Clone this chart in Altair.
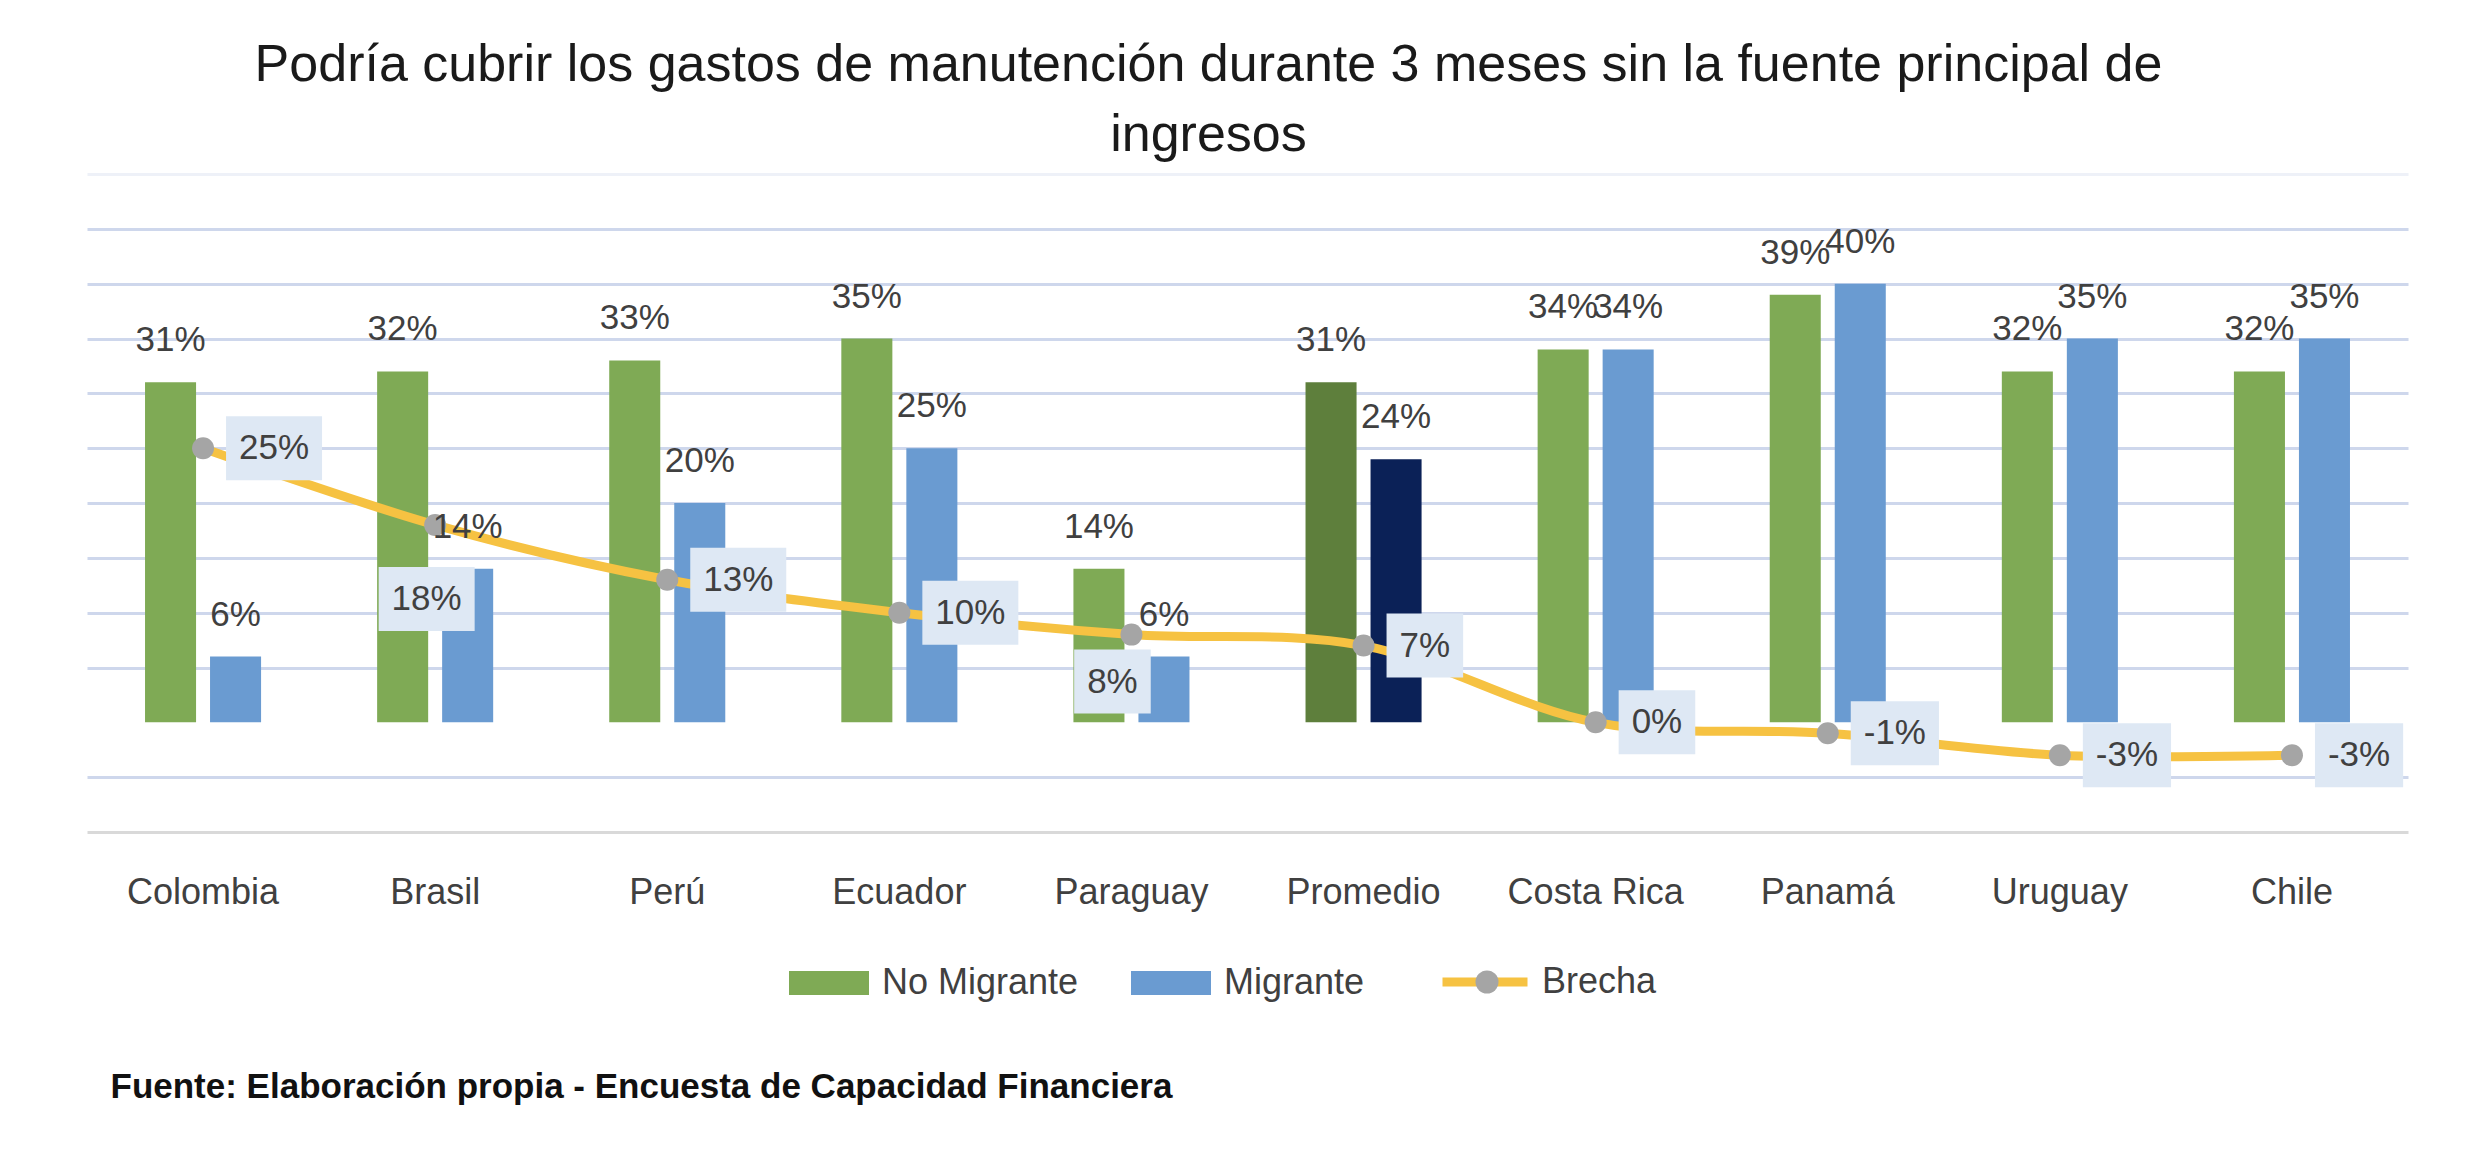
import altair as alt
import pandas as pd

# ---------------- data ----------------
paises = ["Colombia", "Brasil", "Perú", "Ecuador", "Paraguay", "Promedio",
          "Costa Rica", "Panamá", "Uruguay", "Chile"]
no_migrante = [31, 32, 33, 35, 14, 31, 34, 39, 32, 32]
migrante = [6, 14, 20, 25, 6, 24, 34, 40, 35, 35]
brecha = [25, 18, 13, 10, 8, 7, 0, -1, -3, -3]
grupos = ["No Migrante", "Migrante"]
titulo = ["Podría cubrir los gastos de manutención durante 3 meses sin la fuente principal de",
          "ingresos"]
fuente = "Fuente: Elaboración propia - Encuesta de Capacidad Financiera"

# ---------------- styles ----------------
FONT = "Liberation Sans"
TXT = "#404040"
GREEN, BLUE = "#7FAA55", "#6A9BD1"
DGREEN, NAVY = "#5E7F3C", "#0B2157"
YELLOW, GREY = "#F6C242", "#A5A5A5"
BOX = "#DEE8F4"
FS = 35
special_pos = {"Brasil": (-8.5, 74), "Paraguay": (-19, 47)}   # label placement tweaks

# ---------------- frames ----------------
rows = []
for p, nm, m in zip(paises, no_migrante, migrante):
    for g, v in zip(grupos, [nm, m]):
        serie = g if p != "Promedio" else g + " (Promedio)"
        rows.append(dict(pais=p, grupo=g, serie=serie, valor=v, etiqueta=f"{v}%"))
bars_df = pd.DataFrame(rows)

cw = {"-": 0.333, "%": 0.889}
def text_w(s):
    return sum(cw.get(c, 0.556) for c in s) * FS

brows = []
for p, b in zip(paises, brecha):
    lab = f"{b}%"
    W = text_w(lab) + 26
    if p in special_pos:
        cx, cy = special_pos[p]
        l, r, t, btm = cx - W / 2, cx + W / 2, cy - 32, cy + 32
        pos = p
    else:
        l, r, t, btm = 23, 23 + W, -32, 32
        pos = "derecha"
    path = f"M{l:.1f},{t:.1f}H{r:.1f}V{btm:.1f}H{l:.1f}Z"
    brows.append(dict(pais=p, valor=b, etiqueta=lab, caja=path, pos=pos,
                      linea="Brecha", punto="marcador"))
br_df = pd.DataFrame(brows)

# ---------------- encodings ----------------
x = alt.X("pais:N", sort=paises,
          scale=alt.Scale(paddingInner=0.5, paddingOuter=0.25),
          axis=alt.Axis(title=fuente, labelAngle=0, labelFontSize=36, labelColor=TXT,
                        labelFont=FONT, labelBaseline="alphabetic", labelPadding=71,
                        ticks=False, tickSize=0, domainColor="#D9D9D9", domainWidth=3,
                        titleX=23, titleY=254, titleAlign="left", titleAnchor="start",
                        titleBaseline="middle", titleFontSize=35, titleFontWeight="bold",
                        titleColor="#111111", titleFont=FONT))
y = alt.Y("valor:Q", scale=alt.Scale(domain=[-10, 50], nice=False, zero=False),
          axis=alt.Axis(title=None, labels=False, ticks=False, domain=False,
                        values=[-5, 5, 10, 15, 20, 25, 30, 35, 40, 45, 50],
                        gridWidth=3,
                        gridColor={"condition": {"test": "datum.value >= 50", "value": "#EEF1F8"},
                                   "value": "#CED7EC"}))
xoff = alt.XOffset("grupo:N", sort=grupos,
                   scale=alt.Scale(paddingInner=0.215, paddingOuter=0))

LEG_Y = 769

bars = alt.Chart(bars_df).mark_bar().encode(
    x=x, y=y, xOffset=xoff,
    color=alt.Color("serie:N",
                    scale=alt.Scale(domain=["No Migrante", "Migrante",
                                            "No Migrante (Promedio)", "Migrante (Promedio)"],
                                    range=[GREEN, BLUE, DGREEN, NAVY]),
                    legend=alt.Legend(values=["No Migrante", "Migrante"], title=None,
                                      orient="none", direction="horizontal",
                                      legendX=702, legendY=LEG_Y, padding=0,
                                      symbolType="M-1,-0.3H1V0.3H-1Z", symbolSize=6400,
                                      symbolStrokeWidth=0, labelFontSize=36,
                                      labelColor=TXT, labelFont=FONT, labelOffset=13,
                                      columnPadding=52, labelLimit=400)),
)

bar_labels = alt.Chart(bars_df).mark_text(
    dy=-31, baseline="alphabetic", fontSize=FS, color=TXT, font=FONT
).encode(x=x, y=y, xOffset=xoff, text="etiqueta:N")

line = alt.Chart(br_df).mark_line(interpolate="cardinal", strokeWidth=9).encode(
    x=x, y=y,
    stroke=alt.Stroke("linea:N", scale=alt.Scale(domain=["Brecha"], range=[YELLOW]),
                      legend=alt.Legend(title=None, orient="none", legendX=1351, legendY=761,
                                        padding=0, symbolType="stroke", symbolSize=7225,
                                        symbolStrokeWidth=9, labelFontSize=36,
                                        labelColor=TXT, labelFont=FONT, labelOffset=10,
                                        labelLimit=400)),
)

points = alt.Chart(br_df).mark_point(filled=True, size=484, opacity=1, strokeWidth=0).encode(
    x=x, y=y,
    fill=alt.Fill("punto:N", scale=alt.Scale(domain=["marcador"], range=[GREY]),
                  legend=alt.Legend(title=None, orient="none", legendX=1382, legendY=790,
                                    padding=0, symbolType="circle", symbolSize=529,
                                    symbolStrokeWidth=0, labelExpr="''",
                                    symbolFillColor=GREY, labelFontSize=36)),
)

boxes = alt.Chart(br_df).mark_point(filled=True, size=4, color=BOX, opacity=1,
                                    strokeWidth=0).encode(
    x=x, y=y, shape=alt.Shape("caja:N", scale=None, legend=None))

label_layers = [
    alt.Chart(br_df).transform_filter(alt.datum.pos == "derecha").mark_text(
        align="left", dx=36, baseline="middle", fontSize=FS, color=TXT, font=FONT
    ).encode(x=x, y=y, text="etiqueta:N")
]
for p, (cx, cy) in special_pos.items():
    label_layers.append(
        alt.Chart(br_df).transform_filter(alt.datum.pos == p).mark_text(
            align="center", dx=cx, dy=cy, baseline="middle", fontSize=FS, color=TXT, font=FONT
        ).encode(x=x, y=y, text="etiqueta:N"))

chart = alt.layer(bars, line, points, bar_labels, boxes, *label_layers).properties(
    width=2321, height=658,
    title=alt.Title(titulo, anchor="middle", fontSize=52, font=FONT, fontWeight="normal",
                    color="#1A1A1A", lineHeight=70, dx=-39, offset=12),
    padding={"left": 79, "top": 166, "right": 50, "bottom": 300},
    autosize=alt.AutoSizeParams(type="none"),
    background="white",
).configure_view(stroke=None)

chart.save("out.html", embed_options={"renderer": "svg", "actions": False})
